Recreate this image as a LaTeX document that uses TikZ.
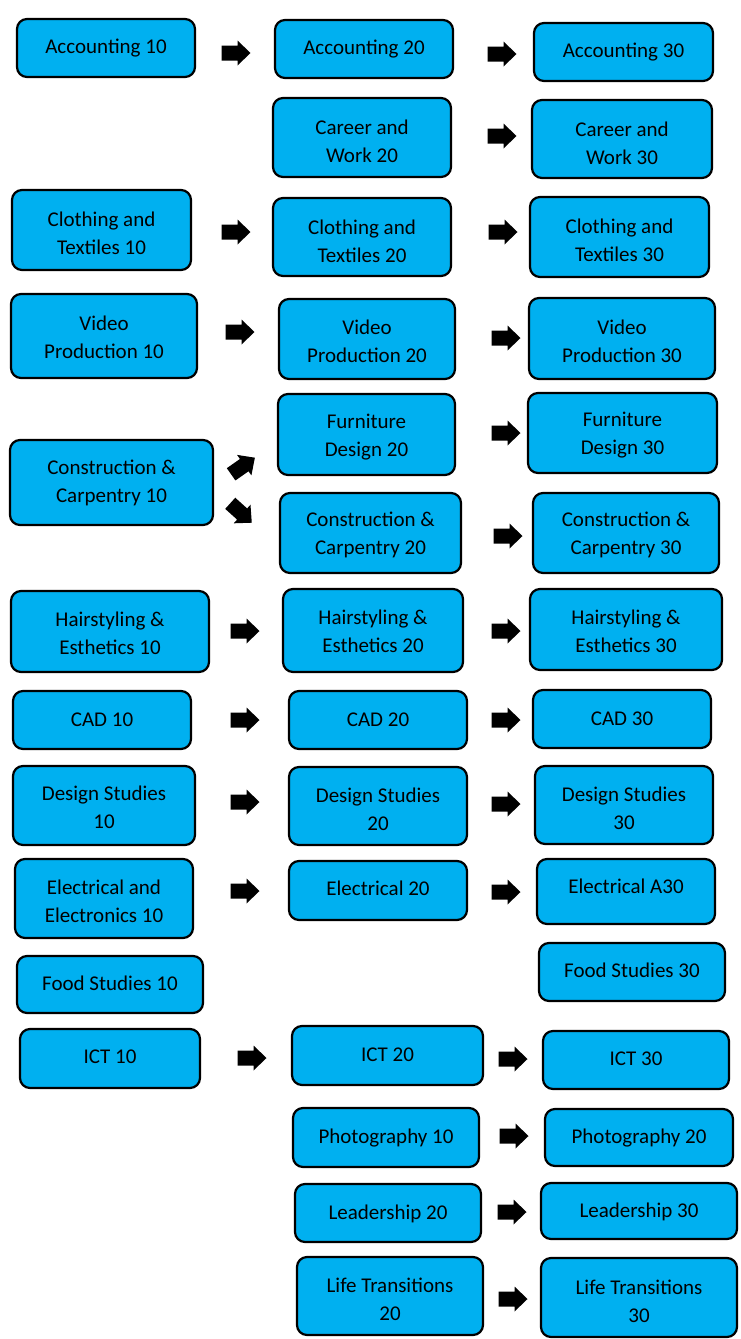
\documentclass[tikz,border=0pt]{standalone}
\usepackage{fontspec}
\setmainfont{Carlito}
\definecolor{boxblue}{HTML}{00B0F0}
\tikzset{
  box/.style={draw=black, line width=2.2pt, fill=boxblue, rounded corners=10pt, inner sep=0pt},
  boxtext/.style={align=center, inner sep=0pt, font=\fontsize{21}{28}\selectfont},
  barrow/.pic={\fill[black] (-14.5,-7.5) -- (1.5,-7.5) -- (1.5,-12.5) -- (14.5,0)
     -- (1.5,12.5) -- (1.5,7.5) -- (-14.5,7.5) -- cycle;}
}
% \bx[text y offset]{name}{x1}{y1}{x2}{y2}{text}
\newcommand{\bx}[7][0]{%
  \node[box, minimum width={(#5-#3)*1pt}, minimum height={(#6-#4)*1pt}]
    (#2) at ({(#3+#5)/2},{(#4+#6)/2}) {};
  \node[boxtext] (#2t) at ({(#3+#5)/2},{(#4+#6)/2+#1}) {#7};}
\begin{document}
\begin{tikzpicture}[x=1pt,y=-1pt]
\useasboundingbox (0,0) rectangle (741,1339);
% Accounting
\bx{acc10}{17}{19}{195}{77}{Accounting 10}
\bx{acc20}{275}{20}{453}{78}{Accounting 20}
\bx{acc30}{534}{23}{713}{81}{Accounting 30}
\pic (a1) at (236,53) {barrow};
\pic (a2) at (502,54) {barrow};
% Career
\bx[3.5]{car20}{273}{98}{451}{177}{Career and\\Work 20}
\bx[4]{car30}{532}{100}{712}{178}{Career and\\Work 30}
\pic (a3) at (502,136) {barrow};
% Clothing
\bx[3]{clo10}{12}{190}{191}{270}{Clothing and\\Textiles 10}
\bx[4]{clo20}{273}{198}{451}{276}{Clothing and\\Textiles 20}
\bx[3]{clo30}{530}{197}{709}{277}{Clothing and\\Textiles 30}
\pic (a4) at (236,232) {barrow};
\pic (a5) at (503,232) {barrow};
% Video
\bx[1]{vid10}{11}{294}{197}{378}{Video\\Production 10}
\bx[2]{vid20}{279}{299}{455}{379}{Video\\Production 20}
\bx[2.5]{vid30}{529}{298}{715}{379}{Video\\Production 30}
\pic (a6) at (240,332) {barrow};
\pic (a7) at (506,338) {barrow};
% Construction / Furniture
\bx[0.5]{con10}{10}{440}{213}{525}{Construction \&\\Carpentry 10}
\bx[2.5]{fur20}{278}{394}{455}{475}{Furniture\\Design 20}
\bx[2]{fur30}{528}{393}{717}{473}{Furniture\\Design 30}
\bx[2]{con20}{280}{493}{461}{573}{Construction \&\\Carpentry 20}
\bx[2]{con30}{533}{493}{719}{573}{Construction \&\\Carpentry 30}
\pic[rotate=35] (a8) at (243,466) {barrow};
\pic[rotate=-42] (a9) at (241,513) {barrow};
\pic (a10) at (506,433) {barrow};
\pic (a11) at (508,536) {barrow};
% Hairstyling
\bx[1.5]{hai10}{11}{591}{209}{672}{Hairstyling \&\\Esthetics 10}
\bx[0.5]{hai20}{283}{589}{463}{672}{Hairstyling \&\\Esthetics 20}
\bx[1.5]{hai30}{530}{589}{722}{670}{Hairstyling \&\\Esthetics 30}
\pic (a12) at (245,631) {barrow};
\pic (a13) at (506,631) {barrow};
% CAD
\bx{cad10}{13}{691}{191}{749}{CAD 10}
\bx{cad20}{289}{691}{467}{749}{CAD 20}
\bx{cad30}{533}{690}{711}{748}{CAD 30}
\pic (a14) at (245,720) {barrow};
\pic (a15) at (506,720) {barrow};
% Design Studies
\bx[1.5]{des10}{13}{766}{195}{845}{Design Studies\\10}
\bx[3]{des20}{289}{767}{467}{845}{Design Studies\\20}
\bx[3.5]{des30}{535}{766}{713}{844}{Design Studies\\30}
\pic (a16) at (245,802) {barrow};
\pic (a17) at (506,804) {barrow};
% Electrical
\bx[2.5]{ele10}{15}{859}{193}{938}{Electrical and\\Electronics 10}
\bx[-2]{ele20}{289}{861}{467}{920}{Electrical 20}
\bx[-5]{ele30}{537}{859}{715}{924}{Electrical A30}
\pic (a18) at (245,891) {barrow};
\pic (a19) at (506,892) {barrow};
% Food
\bx[-1]{foo10}{17}{956}{203}{1013}{Food Studies 10}
\bx[-2]{foo30}{539}{943}{725}{1001}{Food Studies 30}
% ICT
\bx[-2]{ict10}{20}{1029}{200}{1088}{ICT 10}
\bx[-1]{ict20}{292}{1026}{483}{1085}{ICT 20}
\bx[-1]{ict30}{543}{1031}{729}{1089}{ICT 30}
\pic (a20) at (252,1058) {barrow};
\pic (a21) at (513,1059) {barrow};
% Photography
\bx{pho10}{293}{1108}{479}{1167}{Photography 10}
\bx{pho20}{545}{1109}{733}{1166}{Photography 20}
\pic (a22) at (514,1136) {barrow};
% Leadership
\bx[1]{lea20}{295}{1184}{481}{1242}{Leadership 20}
\bx[1]{lea30}{541}{1183}{737}{1239}{Leadership 30}
\pic (a23) at (512,1212) {barrow};
% Life Transitions
\bx[3]{lif20}{297}{1257}{483}{1335}{Life Transitions\\20}
\bx[3.5]{lif30}{541}{1258}{737}{1337}{Life Transitions\\30}
\pic (a24) at (513,1299) {barrow};
\end{tikzpicture}
\end{document}
